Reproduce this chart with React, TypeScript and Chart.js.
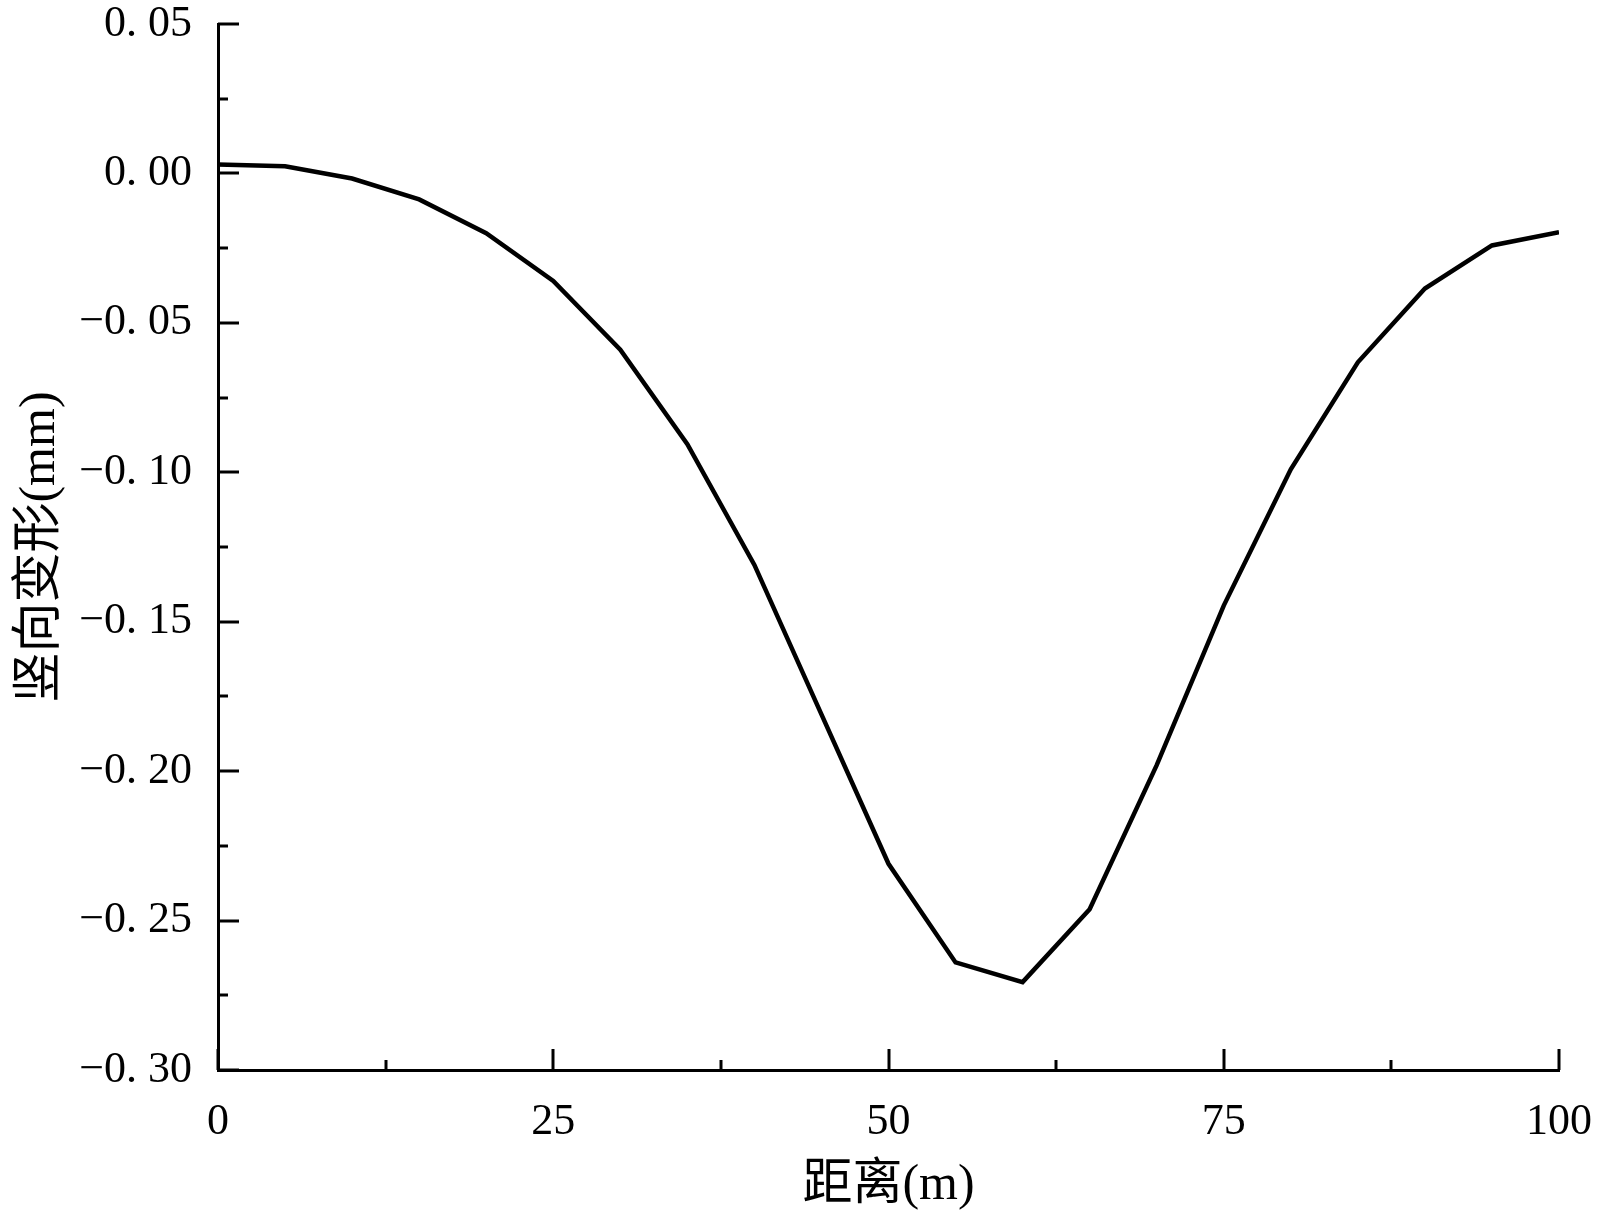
import React, { useEffect, useRef } from "react";
import { Chart, registerables } from "chart.js";

Chart.register(...registerables);

const distances = [0, 5, 10, 15, 20, 25, 30, 35, 40, 45, 50, 55, 60, 65, 70, 75, 80, 85, 90, 95, 100];
const deformation = [
  0.003, 0.0024, -0.0017, -0.0087, -0.02, -0.036, -0.059, -0.0906, -0.131, -0.181,
  -0.231, -0.264, -0.2706, -0.2462, -0.198, -0.1446, -0.099, -0.0632, -0.0385, -0.0241, -0.0197,
];
const xTitle = "距离(m)";
const yTitle = "竖向变形(mm)";
const xRange = { min: 0, max: 100, step: 25 };
const yRange = { min: -0.3, max: 0.05, step: 0.05 };

const fmtY = (v: number) => {
  const s = Math.abs(v) < 1e-9 ? "0.00" : v.toFixed(2);
  return s.replace("-", "−").replace(".", ". ");
};

const inwardTicks = {
  id: "inwardTicks",
  afterDraw(chart: any) {
    const ctx = chart.ctx;
    const area = chart.chartArea;
    const xs = chart.scales.x;
    const ys = chart.scales.y;
    ctx.save();
    ctx.strokeStyle = "#000";
    ctx.lineWidth = 3;
    ctx.lineCap = "butt";
    const major = 21;
    const minor = 10;
    const xt = xs.ticks.map((t: any) => t.value);
    xt.forEach((v: number, i: number) => {
      const px = Math.round(xs.getPixelForValue(v));
      ctx.beginPath();
      ctx.moveTo(px, area.bottom);
      ctx.lineTo(px, area.bottom - major);
      ctx.stroke();
      if (i < xt.length - 1) {
        const m = Math.round(xs.getPixelForValue((v + xt[i + 1]) / 2));
        ctx.beginPath();
        ctx.moveTo(m, area.bottom);
        ctx.lineTo(m, area.bottom - minor);
        ctx.stroke();
      }
    });
    const yt = ys.ticks.map((t: any) => t.value);
    yt.forEach((v: number, i: number) => {
      const py = Math.round(ys.getPixelForValue(v));
      ctx.beginPath();
      ctx.moveTo(area.left, py);
      ctx.lineTo(area.left + major, py);
      ctx.stroke();
      if (i < yt.length - 1) {
        const m = Math.round(ys.getPixelForValue((v + yt[i + 1]) / 2));
        ctx.beginPath();
        ctx.moveTo(area.left, m);
        ctx.lineTo(area.left + minor, m);
        ctx.stroke();
      }
    });
    ctx.restore();
  },
};

export default function App() {
  const ref = useRef<HTMLCanvasElement | null>(null);
  useEffect(() => {
    if (!ref.current) return;
    const chart = new Chart(ref.current, {
      type: "line",
      data: {
        datasets: [
          {
            data: distances.map((d, i) => ({ x: d, y: deformation[i] })),
            borderColor: "#000",
            borderWidth: 4.5,
            pointRadius: 0,
            tension: 0,
            fill: false,
          },
        ],
      },
      options: {
        responsive: false,
        animation: false,
        devicePixelRatio: 1,
        layout: { padding: { left: 0, top: 24, right: 41, bottom: 0 } },
        plugins: { legend: { display: false }, tooltip: { enabled: false } },
        scales: {
          x: {
            type: "linear",
            min: xRange.min,
            max: xRange.max,
            grid: { display: false },
            border: { display: true, color: "#000", width: 3 },
            ticks: {
              stepSize: xRange.step,
              color: "#000",
              padding: 22,
              font: { family: "'Liberation Serif', serif", size: 44, lineHeight: 1 },
              maxRotation: 0,
            },
            title: {
              display: true,
              text: xTitle,
              color: "#000",
              font: { family: "'Liberation Serif', 'Noto Sans CJK SC', serif", size: 50, lineHeight: 1.2 },
              padding: { top: 0, bottom: 8 },
            },
            afterFit: (s: any) => {
              s.height = 154;
              s.paddingLeft = 0;
              s.paddingRight = 0;
            },
          },
          y: {
            type: "linear",
            min: yRange.min,
            max: yRange.max,
            grid: { display: false },
            border: { display: true, color: "#000", width: 3 },
            ticks: {
              stepSize: yRange.step,
              color: "#000",
              padding: 18,
              font: { family: "'Liberation Serif', serif", size: 44, lineHeight: 1 },
              callback: (v: any) => fmtY(Number(v)),
            },
            title: {
              display: true,
              text: yTitle,
              color: "#000",
              font: { family: "'Liberation Serif', 'Noto Sans CJK SC', serif", size: 50, lineHeight: 1.2 },
              padding: { top: 11, bottom: 0 },
            },
            afterFit: (s: any) => {
              s.width = 218;
              s.paddingTop = 0;
              s.paddingBottom = 0;
            },
          },
        },
      },
      plugins: [inwardTicks],
    });
    return () => chart.destroy();
  }, []);
  return (
    <div style={{ position: "absolute", left: 0, top: 0, width: 1600, height: 1224, background: "#fff" }}>
      <canvas ref={ref} width={1600} height={1224} style={{ width: 1600, height: 1224, display: "block" }} />
    </div>
  );
}
